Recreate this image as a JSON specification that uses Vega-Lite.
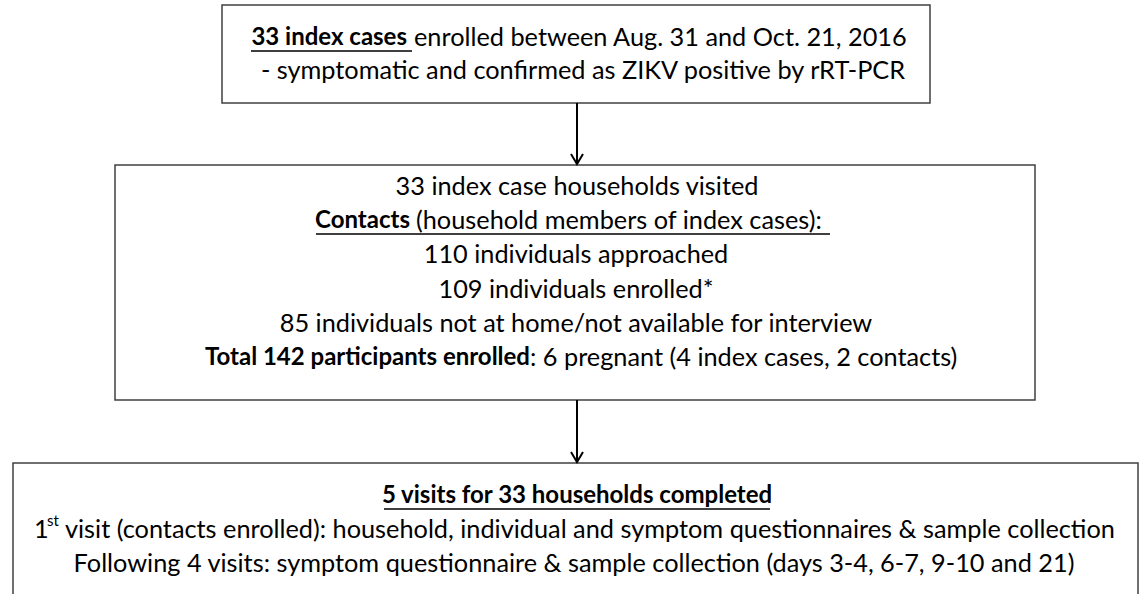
{
  "$schema": "https://vega.github.io/schema/vega-lite/v6.json",
  "width": 1145,
  "height": 594,
  "autosize": {"type": "fit", "contains": "padding"},
  "padding": 0,
  "background": "white",
  "config": {"view": {"stroke": null}},
  "datasets": {
    "boxes": [
      {"box": "index cases", "x": 222, "x2": 930, "y": 5, "y2": 103},
      {"box": "households", "x": 115, "x2": 1035, "y": 165, "y2": 400},
      {"box": "visits", "x": 13, "x2": 1138, "y": 463, "y2": 640}
    ],
    "arrows": [
      {"x": 577, "y": 103, "y2": 164},
      {"x": 577, "y": 400, "y2": 462}
    ],
    "centerNormal": [
      {"text": "- symptomatic and confirmed as ZIKV positive by rRT-PCR", "x": 583, "y": 71},
      {"text": "33 index case households visited", "x": 577, "y": 187},
      {"text": "110 individuals approached", "x": 576, "y": 255},
      {"text": "109 individuals enrolled*", "x": 576, "y": 290},
      {"text": "85 individuals not at home/not available for interview", "x": 576, "y": 324},
      {"text": "Following 4 visits: symptom questionnaire & sample collection (days 3-4, 6-7, 9-10 and 21)", "x": 574, "y": 564}
    ],
    "leftNormal": [
      {"text": "enrolled between Aug. 31 and Oct. 21, 2016", "x": 414, "y": 38},
      {"text": "(household members of index cases):", "x": 416, "y": 221},
      {"text": ": 6 pregnant (4 index cases, 2 contacts)", "x": 530, "y": 358},
      {"text": "1", "x": 34, "y": 530},
      {"text": "visit (contacts enrolled): household, individual and symptom questionnaires & sample collection", "x": 65, "y": 530}
    ],
    "rightBold": [
      {"text": "33 index cases", "x": 407, "y": 38},
      {"text": "Contacts", "x": 410, "y": 221},
      {"text": "Total 142 participants enrolled", "x": 530, "y": 358}
    ],
    "centerBold": [
      {"text": "5 visits for 33 households completed", "x": 577, "y": 496}
    ],
    "superscript": [
      {"text": "st", "x": 47, "y": 521}
    ],
    "underlines": [
      {"x": 251, "x2": 412, "y": 51},
      {"x": 316, "x2": 830, "y": 234},
      {"x": 384, "x2": 770, "y": 509}
    ]
  },
  "encoding": {
    "x": {"field": "x", "type": "quantitative", "scale": {"domain": [0, 1145], "nice": false, "zero": false}, "axis": null},
    "y": {"field": "y", "type": "quantitative", "scale": {"domain": [0, 594], "nice": false, "zero": false, "reverse": true}, "axis": null}
  },
  "layer": [
    {
      "data": {"name": "boxes"},
      "mark": {"type": "rect", "fill": "white", "stroke": "#404040", "strokeWidth": 1.5, "clip": true},
      "encoding": {"x2": {"field": "x2"}, "y2": {"field": "y2"}}
    },
    {
      "data": {"name": "arrows"},
      "mark": {"type": "rule", "color": "black", "strokeWidth": 2},
      "encoding": {"y2": {"field": "y2"}}
    },
    {
      "data": {"name": "arrows"},
      "mark": {"type": "point", "shape": "M-0.6,-1L0,0L0.6,-1", "filled": false, "stroke": "black", "strokeWidth": 2, "size": 400, "opacity": 1},
      "encoding": {"y": {"field": "y2", "type": "quantitative"}}
    },
    {
      "data": {"name": "underlines"},
      "mark": {"type": "rule", "color": "black", "strokeWidth": 1.6},
      "encoding": {"x2": {"field": "x2"}}
    },
    {
      "data": {"name": "centerNormal"},
      "mark": {"type": "text", "font": "Lato", "fontSize": 25.3, "align": "center", "baseline": "middle", "color": "black"},
      "encoding": {"text": {"field": "text"}}
    },
    {
      "data": {"name": "leftNormal"},
      "mark": {"type": "text", "font": "Lato", "fontSize": 25.3, "align": "left", "baseline": "middle", "color": "black"},
      "encoding": {"text": {"field": "text"}}
    },
    {
      "data": {"name": "rightBold"},
      "mark": {"type": "text", "font": "Lato", "fontSize": 24, "fontWeight": "bold", "align": "right", "baseline": "middle", "color": "black"},
      "encoding": {"text": {"field": "text"}}
    },
    {
      "data": {"name": "centerBold"},
      "mark": {"type": "text", "font": "Lato", "fontSize": 24, "fontWeight": "bold", "align": "center", "baseline": "middle", "color": "black"},
      "encoding": {"text": {"field": "text"}}
    },
    {
      "data": {"name": "superscript"},
      "mark": {"type": "text", "font": "Lato", "fontSize": 15, "align": "left", "baseline": "middle", "color": "black"},
      "encoding": {"text": {"field": "text"}}
    }
  ]
}
